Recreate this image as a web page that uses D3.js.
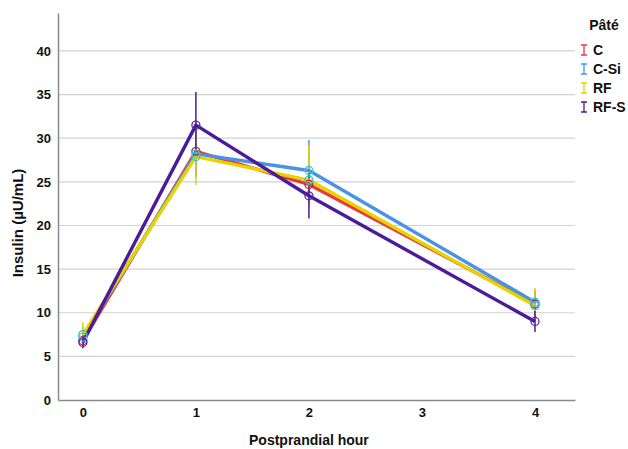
<!DOCTYPE html>
<html>
<head>
<meta charset="utf-8">
<script src="https://cdn.jsdelivr.net/npm/d3@7"></script>
<style>
  body { margin: 0; background: #fff; }
  text { font-family: "Liberation Sans", Arial, sans-serif; }
</style>
</head>
<body>
<div id="chart"></div>
<script>
// data
var hours = [0, 1, 2, 4];
var xTicks = [0, 1, 2, 3, 4];
var yTicks = [0, 5, 10, 15, 20, 25, 30, 35, 40];
var groups = ["C", "C-Si", "RF", "RF-S"];

var meanC   = [6.8, 28.5, 24.7, 11.0];
var meanCSi = [7.2, 28.2, 26.3, 11.2];
var meanRF  = [7.5, 27.9, 25.2, 10.8];
var meanRFS = [6.6, 31.5, 23.4, 9.0];

var lowC   = [6.0, 26.0, 22.5, 9.6];
var lowCSi = [5.9, 25.5, 23.5, 9.7];
var lowRF  = [6.6, 24.6, 22.0, 9.4];
var lowRFS = [6.0, 27.8, 20.8, 7.8];

var highC   = [7.6, 31.0, 27.0, 12.4];
var highCSi = [8.4, 31.0, 29.8, 12.7];
var highRF  = [8.9, 31.2, 29.2, 12.8];
var highRFS = [7.2, 35.3, 26.0, 10.2];

var lineColors   = ["#ea3a3a", "#4a92e6", "#e6d400", "#4a1c98"];
var markerColors = ["#a8284a", "#3cc8dc", "#38c0d8", "#5a2aa0"];

var series = [
  {name: groups[0], mean: meanC,   low: lowC,   high: highC},
  {name: groups[1], mean: meanCSi, low: lowCSi, high: highCSi},
  {name: groups[2], mean: meanRF,  low: lowRF,  high: highRF},
  {name: groups[3], mean: meanRFS, low: lowRFS, high: highRFS}
];

var width = 628, height = 449;
var margin = {top: 13, right: 53, bottom: 49, left: 58};

var svg = d3.select("#chart")
  .append("svg")
    .attr("width", width)
    .attr("height", height);

var x = d3.scaleLinear()
  .domain([-0.22, 4.354])
  .range([margin.left, width - margin.right]);

var y = d3.scaleLinear()
  .domain([0, 44.35])
  .range([height - margin.bottom, margin.top]);

// gridlines
svg.append("g")
  .selectAll("line")
  .data(yTicks.filter(function(d) { return d > 0; }))
  .enter()
  .append("line")
    .attr("x1", margin.left)
    .attr("x2", width - margin.right)
    .attr("y1", function(d) { return y(d); })
    .attr("y2", function(d) { return y(d); })
    .attr("stroke", "#d2d2d2")
    .attr("stroke-width", 1.2);

// axes
var yAxis = svg.append("g")
  .attr("transform", "translate(" + margin.left + ",0)")
  .call(d3.axisLeft(y).tickValues(yTicks).tickFormat(d3.format("d")).tickSize(0).tickPadding(7));
var xAxis = svg.append("g")
  .attr("transform", "translate(0," + (height - margin.bottom) + ")")
  .call(d3.axisBottom(x).tickValues(xTicks).tickFormat(d3.format("d")).tickSize(0).tickPadding(8));

[xAxis, yAxis].forEach(function(a) {
  a.select(".domain").attr("stroke", "#8a8a8a").attr("stroke-width", 1.5);
  a.selectAll("text")
    .style("font-size", "13px")
    .style("font-weight", "bold")
    .attr("fill", "#111");
});

// axis titles
svg.append("text")
  .attr("transform", "translate(23,223)rotate(-90)")
  .attr("text-anchor", "middle")
  .style("font-size", "15px")
  .style("font-weight", "bold")
  .attr("fill", "#111")
  .text("Insulin (µU/mL)");

svg.append("text")
  .attr("x", x(2))
  .attr("y", 445)
  .attr("text-anchor", "middle")
  .style("font-size", "14px")
  .style("font-weight", "bold")
  .attr("fill", "#111")
  .text("Postprandial hour");

// error bars
series.forEach(function(s, i) {
  svg.append("g")
    .selectAll("line")
    .data(hours)
    .enter()
    .append("line")
      .attr("x1", function(d) { return x(d); })
      .attr("x2", function(d) { return x(d); })
      .attr("y1", function(d, j) { return y(s.low[j]); })
      .attr("y2", function(d, j) { return y(s.high[j]); })
      .attr("stroke", lineColors[i])
      .attr("stroke-width", 1.5);
});

// lines
var line = d3.line()
  .x(function(d) { return x(d[0]); })
  .y(function(d) { return y(d[1]); });

series.forEach(function(s, i) {
  svg.append("path")
    .datum(hours.map(function(h, j) { return [h, s.mean[j]]; }))
    .attr("d", line)
    .attr("fill", "none")
    .attr("stroke", lineColors[i])
    .attr("stroke-width", 3.4)
    .attr("stroke-linejoin", "round");
});

// markers
series.forEach(function(s, i) {
  svg.append("g")
    .selectAll("circle")
    .data(hours)
    .enter()
    .append("circle")
      .attr("cx", function(d) { return x(d); })
      .attr("cy", function(d, j) { return y(s.mean[j]); })
      .attr("r", 4)
      .attr("fill", "none")
      .attr("stroke", markerColors[i])
      .attr("stroke-width", 1.3);
});

// legend
var legend = svg.append("g");
legend.append("text")
  .attr("x", 604)
  .attr("y", 30)
  .attr("text-anchor", "middle")
  .style("font-size", "14px")
  .style("font-weight", "bold")
  .attr("fill", "#111")
  .text("Pâté");

var item = legend.selectAll(".item")
  .data(groups)
  .enter()
  .append("g")
    .attr("transform", function(d, i) { return "translate(0," + (50 + i * 19) + ")"; });

item.append("path")
  .attr("d", "M581,-5H587M584,-5V5M581,5H587")
  .attr("stroke", function(d, i) { return lineColors[i]; })
  .attr("stroke-width", 1.3)
  .attr("fill", "none");

item.append("text")
  .attr("x", 593)
  .attr("y", 5)
  .style("font-size", "14px")
  .style("font-weight", "bold")
  .attr("fill", "#111")
  .text(function(d) { return d; });
</script>
</body>
</html>
